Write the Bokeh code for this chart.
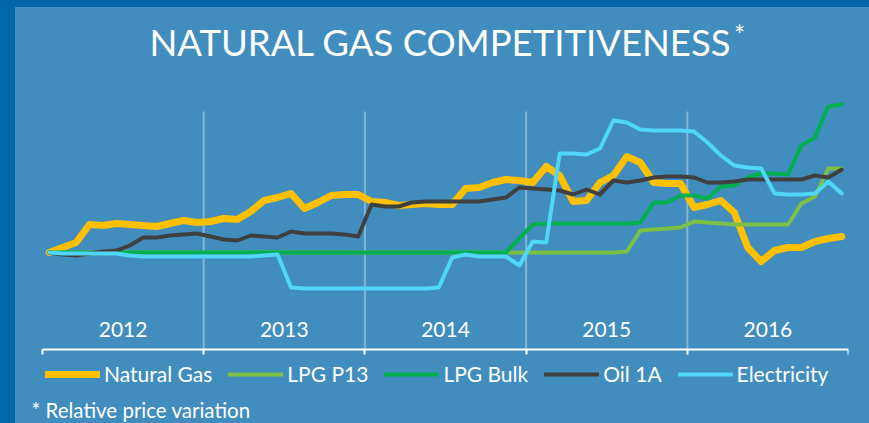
from bokeh.plotting import figure
from bokeh.models import (ColumnDataSource, FixedTicker, Label, Legend, LegendItem,
                          GlobalInlineStyleSheet)
from bokeh.embed import file_html
from bokeh.resources import INLINE
from bokeh.core.properties import value

# ---------------- data (relative price variation, %) ----------------
years = [2012, 2013, 2014, 2015, 2016]
year_labels = ["2012", "2013", "2014", "2015", "2016"]
n_months = 60  # Jan 2012 .. Dec 2016

natural_gas = [0, 2.5, 5, 14, 13.5, 14.5, 14, 13.5, 13, 14.5, 16, 15,
               15.5, 17, 16.5, 20.5, 26, 27.5, 29.5, 22, 25, 28.5, 29, 29,
               25.5, 25, 23.5, 24, 24.5, 24, 24, 32, 32.5, 35, 36.5, 36,
               35, 43, 38.5, 25.5, 26, 35, 38.5, 48, 45, 35, 34.5, 34.5,
               22.5, 24, 26, 20, 2.5, -4.5, 1, 2.5, 2.5, 5.5, 7, 8]
lpg_p13 = [0] * 43 + [0.5, 11, 11.5, 12, 12.5, 15.5, 15, 14.5,
                      14, 14, 14, 14, 14, 24.5, 28, 42, 42]
lpg_bulk = [0] * 35 + [7, 14, 14.5, 14.5, 14.5, 14.5, 14.5, 14.5, 14.5,
                       15, 25, 25, 28.5, 28.5, 27, 33, 33.5, 37.5, 39.5,
                       39.5, 39, 53.5, 57.5, 73, 74]
oil_1a = [0, -1, -1.5, -0.5, 0.5, 1, 3.5, 7.5, 7.5, 8.5, 9, 9.5,
          8, 6.5, 6, 8.5, 8, 7.5, 10.5, 9.5, 9.5, 9.5, 9, 8,
          24, 23, 23, 25, 25.5, 25.5, 25.5, 25.5, 25.5, 26.5, 27.5, 32.5,
          32, 31.5, 31, 29, 31.5, 29, 36, 35, 36, 37.5, 38, 38,
          37.5, 35, 35, 35.5, 36.5, 36.5, 36.5, 36.5, 36.5, 38.5, 37.5, 41.5]
electricity = [0, -0.5, -0.5, -0.5, -0.5, -0.5, -1.5, -2, -2, -2, -2, -2,
               -2, -2, -2, -2, -1.5, -1, -17.5, -18, -18, -18, -18, -18,
               -18, -18, -18, -18, -18, -17.5, -2.5, -1, -2, -2, -2, -6.5,
               5.5, 5, 49.5, 49.5, 49, 52, 66, 65, 61.5, 61, 61, 61,
               60.5, 55, 48.5, 43.5, 42.5, 42, 29.5, 29, 29, 29.5, 35.5, 29.5]

series_names = ["Natural Gas", "LPG P13", "LPG Bulk", "Oil 1A", "Electricity"]
series_values = [natural_gas, lpg_p13, lpg_bulk, oil_1a, electricity]
series_colors = ["#FFC000", "#7CC143", "#00B050", "#404040", "#4FD6F8"]
series_widths = [7, 4, 4, 4, 4]

title_text = "NATURAL GAS COMPETITIVENESS"
footnote_text = "* Relative price variation"

# ---------------- figure ----------------
BG = "#418DBD"
DARK = "#0068A8"
FONT = "Lato"
Y_AXIS = -48.5   # level of the time axis
Y_TOP, Y_BOTTOM = 119, -85.5
X_START = 2012 - 27 / 161.2

x_months = [2012 + (m + 0.5) / 12 for m in range(n_months)]

p = figure(frame_width=833, frame_height=409,
           x_range=(X_START, 2017), y_range=(Y_BOTTOM, Y_TOP),
           output_backend="svg", toolbar_location=None, x_axis_location="above",
           min_border_left=0, min_border_right=21,
           min_border_top=7, min_border_bottom=0)
p.background_fill_color = None
p.border_fill_color = None
p.outline_line_color = None
p.xgrid.visible = False
p.ygrid.visible = False
p.yaxis.visible = False

ax = p.xaxis[0]
ax.fixed_location = Y_AXIS
ax.bounds = (2012, 2017)
ax.ticker = FixedTicker(ticks=years + [2017])
ax.major_label_text_font_size = "0px"
ax.major_label_standoff = 0
ax.axis_line_color = "white"
ax.axis_line_width = 2
ax.major_tick_line_color = "white"
ax.major_tick_line_width = 2
ax.major_tick_in = 5
ax.major_tick_out = 0
ax.minor_tick_line_color = None

# year separators
sep = ColumnDataSource(dict(x=years[1:], y0=[Y_AXIS] * 4, y1=[70.5] * 4))
p.segment(x0="x", x1="x", y0="y0", y1="y1", source=sep,
          line_color="white", line_alpha=0.35, line_width=2)

# year labels
yl = ColumnDataSource(dict(x=[y + 0.5 for y in years], y=[-38.5] * 5, t=year_labels))
p.text(x="x", y="y", text="t", source=yl, text_align="center",
       text_baseline="alphabetic", text_color="white",
       text_font=value(FONT), text_font_size="21px")

items = []
for name, vals, col, w in zip(series_names, series_values, series_colors, series_widths):
    src = ColumnDataSource(dict(x=x_months, y=vals))
    r = p.line("x", "y", source=src, line_color=col, line_width=w,
               line_join="round", line_cap="round")
    items.append(LegendItem(label=name, renderers=[r]))

legend = Legend(items=items, orientation="horizontal", location=(30, 37),
                glyph_width=55, glyph_height=20, label_standoff=4, spacing=16,
                padding=0, margin=0, border_line_color=None,
                background_fill_alpha=0, label_text_color="white",
                label_text_font=FONT, label_text_font_size="21px",
                label_height=20)
p.add_layout(legend)

p.add_layout(Label(x=2014.469, y=105.5, text=title_text, text_align="center",
                   text_baseline="alphabetic", text_color="white",
                   text_font=FONT, text_font_size="36.5px"))
p.add_layout(Label(x=2016.29, y=117, text="*", text_align="left",
                   text_baseline="top", text_color="white",
                   text_font=FONT, text_font_size="26px"))
p.add_layout(Label(x=2011.932, y=-78.5, text=footnote_text, text_align="left",
                   text_baseline="alphabetic", text_color="white",
                   text_font=FONT, text_font_size="20.5px"))

p.stylesheets = [GlobalInlineStyleSheet(
    css="html { background: %s; } body { background: %s; margin: 7px 0 0 15px; }"
        % (DARK, BG))]

open("out.html", "w").write(file_html(p, INLINE))
